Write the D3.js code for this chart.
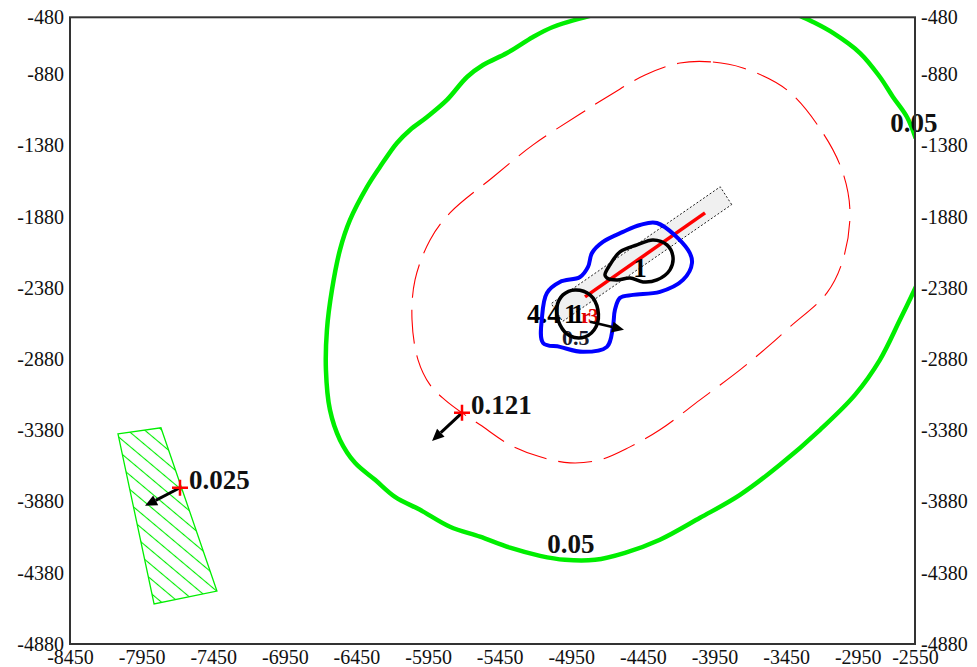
<!DOCTYPE html>
<html>
<head>
<meta charset="utf-8">
<script src="https://cdn.jsdelivr.net/npm/d3@7"></script>
<style>
  html, body { margin: 0; padding: 0; background: #fff; }
  svg { display: block; }
  .tick text { font-family: "Liberation Serif", "Times New Roman", serif; font-size: 20px; fill: #111; }
  .lbl { font-family: "Liberation Serif", "Times New Roman", serif; font-weight: bold; }
</style>
</head>
<body>
<svg id="chart" width="977" height="667"></svg>
<script>
// Axis ticks (metres)
const xTicks = [-8450, -7950, -7450, -6950, -6450, -5950, -5450, -4950, -4450, -3950, -3450, -2950, -2550];
const yTicks = [-480, -880, -1380, -1880, -2380, -2880, -3380, -3880, -4380, -4880];

// 0.05 isoline, main arc
const contour005A = [
  [-4819, -470], [-5078, -548], [-5217, -618], [-5399, -731], [-5566, -815], [-5678, -899],
  [-5818, -1060], [-5957, -1180], [-6076, -1271], [-6167, -1362], [-6286, -1531], [-6376, -1671],
  [-6495, -1903], [-6565, -2113], [-6621, -2394], [-6656, -2674], [-6663, -2955], [-6635, -3236],
  [-6565, -3447], [-6460, -3608], [-6320, -3727], [-6181, -3847], [-6006, -3938], [-5797, -4057],
  [-5587, -4127], [-5378, -4204], [-5168, -4261], [-4994, -4289], [-4784, -4289], [-4575, -4240],
  [-4331, -4148], [-4051, -3994], [-3772, -3833], [-3493, -3622], [-3213, -3376], [-2969, -3131],
  [-2795, -2885], [-2655, -2604], [-2540, -2365]
];
// 0.05 isoline, north-east corner piece
const contour005B = [
  [-3353, -470], [-3262, -513], [-3123, -590], [-2934, -731], [-2795, -899], [-2704, -1039],
  [-2606, -1180], [-2545, -1330]
];
// 0.1 isoline (dashed, closed)
const contour010 = [
  [-4191, -801], [-3961, -794], [-3751, -836], [-3444, -990], [-3193, -1292], [-3053, -1573],
  [-3004, -1853], [-3053, -2183], [-3165, -2415], [-3423, -2653], [-3563, -2780], [-3772, -2955],
  [-4051, -3166], [-4331, -3376], [-4540, -3496], [-4750, -3587], [-4959, -3608], [-5168, -3566],
  [-5378, -3482], [-5587, -3341], [-5713, -3257], [-5832, -3166], [-5936, -3061], [-6020, -2885],
  [-6062, -2604], [-6041, -2324], [-5936, -2043], [-5797, -1853], [-5504, -1608], [-5217, -1376],
  [-4889, -1159], [-4666, -1018], [-4435, -885]
];
// 0.5 isoline (blue, closed)
const contour050 = [
  [-4352, -1924], [-4135, -2113], [-4107, -2204], [-4170, -2324], [-4331, -2408], [-4519, -2429],
  [-4610, -2450], [-4645, -2534], [-4659, -2653], [-4701, -2794], [-4868, -2829], [-5029, -2794],
  [-5147, -2766], [-5154, -2583], [-5120, -2415], [-5029, -2338], [-4889, -2303], [-4833, -2232],
  [-4805, -2134], [-4729, -2057], [-4589, -1987], [-4470, -1938]
];
// 1.0 isolines (black, closed)
const contour100a = [
  [-4715, -2289], [-4680, -2218], [-4610, -2127], [-4491, -2078], [-4379, -2043], [-4282, -2078],
  [-4240, -2162], [-4261, -2253], [-4352, -2324], [-4449, -2338], [-4540, -2310], [-4631, -2324],
  [-4701, -2310]
];
const contour100b = [
  [-4924, -2394], [-4819, -2429], [-4764, -2534], [-4777, -2653], [-4854, -2724], [-4959, -2717],
  [-5029, -2639], [-5050, -2513], [-5008, -2429]
];

// Line source footprint and its centre line
const sourceArea = [[-3830, -1795], [-3910, -1670], [-5090, -2490], [-5010, -2615]];
const sourceLine = [[-4016, -1853], [-4854, -2443]];

// Sensitive area (hatched polygon)
const sensitiveArea = [[-8115, -3404], [-7815, -3362], [-7424, -4508], [-7863, -4599]];

// Receptors: position, arrow tip, value
const receptorX = [-5713, -7682];
const receptorY = [-3257, -3783];
const arrowTipX = [-5922, -7926];
const arrowTipY = [-3454, -3910];
const receptorValues = ["0.121", "0.025"];

// Isoline labels
const isoLabelX = [-4952, -2557];
const isoLabelY = [-4240, -1285];
const isoLabelText = ["0.05", "0.05"];

// Labels crowded around the source
const srcLabelX = [-5259, -5001, -4952, -4882, -4833, -5015, -4470];
const srcLabelY = [-2625, -2625, -2625, -2625, -2625, -2780, -2303];
const srcLabelText = ["4.4", "1", "1", "r", "3", "0.5", "1"];
const srcLabelColor = ["#000", "#000", "#000", "#e00000", "#e00000", "#1a1a2e", "#000"];
const srcLabelSize = [27, 27, 27, 22, 22, 22, 27];

// Wind arrow at the source maximum
const srcArrow = [[-4819, -2618], [-4582, -2674]];

const svg = d3.select("#chart");
const W = 977, H = 667;
const pL = 70, pR = 915, pT = 17.3, pB = 644;

const x = d3.scaleLinear().domain([-8450, -2550]).range([pL, pR]);
const y = d3.scaleLinear().domain([-480, -4880]).range([pT, pB]);

svg.append("rect").attr("width", W).attr("height", H).attr("fill", "#fff");

const defs = svg.append("defs");
defs.append("clipPath").attr("id", "plotClip")
  .append("rect").attr("x", pL).attr("y", pT).attr("width", pR - pL).attr("height", pB - pT);

const hatch = defs.append("pattern").attr("id", "hatch")
  .attr("patternUnits", "userSpaceOnUse").attr("width", 11).attr("height", 11)
  .attr("patternTransform", "rotate(40)");
hatch.append("line").attr("x1", 0).attr("y1", 5.5).attr("x2", 11).attr("y2", 5.5)
  .attr("stroke", "#00ee00").attr("stroke-width", 1.1);

// Axes (labels only, no tick marks)
const fmt = d => String(d);
const gL = svg.append("g").attr("transform", `translate(${pL},0)`)
  .call(d3.axisLeft(y).tickValues(yTicks).tickSize(0).tickPadding(6).tickFormat(fmt));
const gR = svg.append("g").attr("transform", `translate(${pR},0)`)
  .call(d3.axisRight(y).tickValues(yTicks).tickSize(0).tickPadding(6).tickFormat(fmt));
const gB = svg.append("g").attr("transform", `translate(0,${pB})`)
  .call(d3.axisBottom(x).tickValues(xTicks).tickSize(0).tickPadding(5.5).tickFormat(fmt));
[gL, gR, gB].forEach(g => g.select(".domain").remove());

const plot = svg.append("g").attr("clip-path", "url(#plotClip)");

const open = d3.line().x(d => x(d[0])).y(d => y(d[1])).curve(d3.curveCatmullRom);
const closed = d3.line().x(d => x(d[0])).y(d => y(d[1])).curve(d3.curveCatmullRomClosed);
const poly = d3.line().x(d => x(d[0])).y(d => y(d[1])).curve(d3.curveLinearClosed);

// Sensitive area
plot.append("path").attr("d", poly(sensitiveArea))
  .attr("fill", "url(#hatch)").attr("stroke", "#00ee00").attr("stroke-width", 1.3);

// Source footprint
plot.append("path").attr("d", poly(sourceArea))
  .attr("fill", "#f0f0f0").attr("stroke", "#222").attr("stroke-width", 1)
  .attr("stroke-dasharray", "2,2");
plot.append("path").attr("d", d3.line().x(d => x(d[0])).y(d => y(d[1]))(sourceLine))
  .attr("stroke", "#ff0000").attr("stroke-width", 3.5).attr("fill", "none");

// Source labels
srcLabelText.forEach((t, i) => {
  plot.append("text").attr("class", "lbl")
    .attr("x", x(srcLabelX[i])).attr("y", y(srcLabelY[i]))
    .attr("text-anchor", i === 6 ? "middle" : "start")
    .attr("font-size", srcLabelSize[i]).attr("fill", srcLabelColor[i]).text(t);
});

// Isolines
plot.append("path").attr("d", closed(contour010))
  .attr("fill", "none").attr("stroke", "#ff0000").attr("stroke-width", 1.1)
  .attr("stroke-dasharray", "34,12");
plot.append("path").attr("d", open(contour005A))
  .attr("fill", "none").attr("stroke", "#00ee00").attr("stroke-width", 4.5);
plot.append("path").attr("d", open(contour005B))
  .attr("fill", "none").attr("stroke", "#00ee00").attr("stroke-width", 4.5);
plot.append("path").attr("d", closed(contour050))
  .attr("fill", "none").attr("stroke", "#0000ff").attr("stroke-width", 4);
[contour100a, contour100b].forEach(c => {
  plot.append("path").attr("d", closed(c))
    .attr("fill", "none").attr("stroke", "#000").attr("stroke-width", 3.5);
});

// Arrow helper
function arrow(g, x1, y1, x2, y2, w) {
  const dx = x2 - x1, dy = y2 - y1, L = Math.hypot(dx, dy);
  const ux = dx / L, uy = dy / L, hl = 12, hw = 5.5;
  const bx = x2 - ux * hl, by = y2 - uy * hl;
  g.append("line").attr("x1", x1).attr("y1", y1).attr("x2", bx).attr("y2", by)
    .attr("stroke", "#000").attr("stroke-width", w);
  g.append("path")
    .attr("d", `M${x2},${y2}L${bx - uy * hw},${by + ux * hw}L${bx + uy * hw},${by - ux * hw}Z`)
    .attr("fill", "#000");
}

arrow(plot, x(srcArrow[0][0]), y(srcArrow[0][1]), x(srcArrow[1][0]), y(srcArrow[1][1]), 2.5);

// Receptors
receptorValues.forEach((v, i) => {
  const px = x(receptorX[i]), py = y(receptorY[i]);
  arrow(plot, px, py, x(arrowTipX[i]), y(arrowTipY[i]), 3);
  plot.append("path").attr("d", `M${px - 8},${py}H${px + 8}M${px},${py - 8}V${py + 8}`)
    .attr("stroke", "#ff0000").attr("stroke-width", 2.5);
  svg.append("text").attr("class", "lbl")
    .attr("x", px + 9).attr("y", py + 1).attr("font-size", 27).attr("fill", "#111").text(v);
});

// Isoline labels
isoLabelText.forEach((t, i) => {
  svg.append("text").attr("class", "lbl")
    .attr("x", x(isoLabelX[i])).attr("y", y(isoLabelY[i]))
    .attr("text-anchor", "middle").attr("font-size", 27).attr("fill", "#111").text(t);
});

// Frame
svg.append("rect").attr("x", pL).attr("y", pT).attr("width", pR - pL).attr("height", pB - pT)
  .attr("fill", "none").attr("stroke", "#333").attr("stroke-width", 2);
</script>
</body>
</html>
